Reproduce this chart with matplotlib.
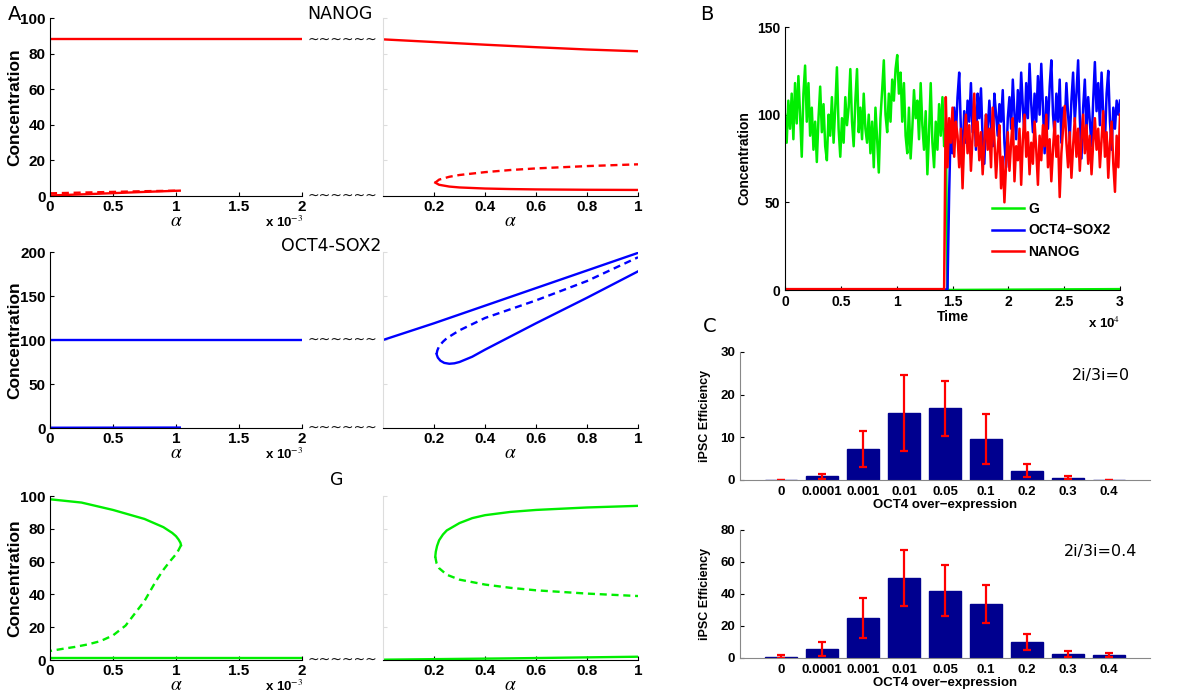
import numpy as np
import matplotlib
matplotlib.use('Agg')
import matplotlib.pyplot as plt
from matplotlib.transforms import offset_copy

plt.rcParams['font.family'] = ['Liberation Sans', 'DejaVu Sans']
plt.rcParams['mathtext.fontset'] = 'stix'

RED, BLUE, GREEN = '#ff0000', '#0000ff', '#00ee00'

# ---------------- panel A: bifurcation branches (alpha, concentration) ----------------
# left halves use alpha in units of 1e-3
nanog_left = {
    'hi':   ([0, 2.0], [88, 88]),
    'lo':   ([0, 0.25, 0.5, 0.75, 1.03], [0.3, 0.9, 1.6, 2.3, 3.0]),
    'dash': ([0, 0.25, 0.5, 0.75, 1.03], [1.5, 1.9, 2.3, 2.7, 3.0]),
}
nanog_right = {
    'hi':   ([0, 0.2, 0.4, 0.6, 0.8, 1.0], [88, 86.5, 85, 83.6, 82.3, 81.3]),
    'lo':   ([0.205, 0.22, 0.26, 0.3, 0.4, 0.5, 0.6, 0.8, 1.0],
             [7.5, 6.3, 5.3, 4.8, 4.2, 3.9, 3.7, 3.5, 3.4]),
    'dash': ([0.205, 0.22, 0.26, 0.3, 0.4, 0.5, 0.6, 0.8, 1.0],
             [7.5, 9.2, 10.8, 11.8, 13.4, 14.6, 15.5, 16.8, 17.8]),
}
oct_left = {
    'hi': ([0, 2.0], [100, 100]),
    'lo': ([0, 1.03], [0.3, 0.5]),
}
oct_right = {
    'hi':   ([0, 0.2, 0.4, 0.6, 0.8, 1.0], [100, 119, 139, 159, 179, 199]),
    'lo':   ([0.21, 0.215, 0.225, 0.24, 0.26, 0.28, 0.3, 0.35, 0.4, 0.6, 0.8, 1.0],
             [84, 80, 76.5, 74, 73, 73.5, 75, 81, 89, 119, 148, 178]),
    'dash': ([0.21, 0.213, 0.22, 0.235, 0.25, 0.3, 0.4, 0.5, 0.6, 0.8, 1.0],
             [84, 88, 93, 98, 102, 111, 125, 135, 145, 167, 194]),
}
g_left = {
    'hi':   ([0, 0.25, 0.5, 0.75, 0.9, 0.97, 1.0, 1.02, 1.035, 1.04],
             [98, 96, 91.5, 86, 81, 77.5, 75.5, 73.5, 71.5, 70]),
    'dash': ([1.04, 1.02, 1.0, 0.95, 0.9, 0.84, 0.75, 0.6, 0.5, 0.4, 0.3, 0.2, 0.1, 0],
             [70, 67, 64.5, 60, 55, 48, 36, 21, 15, 11.5, 9.5, 8, 6.8, 5.5]),
    'lo':   ([0, 2.0], [1.5, 1.5]),
}
g_right = {
    'hi':   ([0.205, 0.207, 0.212, 0.22, 0.235, 0.25, 0.3, 0.35, 0.4, 0.5, 0.6, 0.8, 1.0],
             [63, 66, 69.5, 73, 76.5, 79, 83.5, 86.5, 88.3, 90.3, 91.5, 93, 94]),
    'dash': ([0.205, 0.21, 0.22, 0.25, 0.3, 0.4, 0.5, 0.6, 0.8, 1.0],
             [63, 59, 56, 52, 49, 46, 44, 42.5, 40.5, 39]),
    'lo':   ([0, 0.5, 1.0], [0.2, 1.0, 2.0]),
}

# ---------------- panel B: stochastic time course ----------------
dt = 150
g_vals = [100, 84, 108, 92, 112, 86, 118, 95, 122, 100, 76, 112, 128, 96, 118, 88,
          104, 80, 96, 73, 98, 116, 90, 106, 82, 74, 100, 88, 110, 84, 104, 127,
          92, 76, 98, 84, 110, 94, 104, 126, 96, 82, 108, 126, 90, 104, 86, 112,
          92, 84, 100, 78, 96, 70, 104, 86, 67, 98, 114, 131, 100, 90, 112, 96,
          120, 108, 126, 134, 112, 124, 96, 118, 88, 78, 104, 75, 92, 114, 98, 108,
          86, 118, 94, 80, 102, 66, 90, 118, 84, 70, 96, 80, 106, 88, 110, 82, 92]
oct_vals = [55, 96, 78, 104, 88, 110, 124, 92, 76, 102, 84, 108, 96, 118, 90, 104,
            80, 112, 98, 115, 86, 72, 100, 90, 108, 94, 82, 112, 100, 88, 106, 96,
            114, 84, 70, 98, 110, 92, 120, 100, 86, 114, 96, 124, 104, 88, 118, 98,
            129, 106, 90, 112, 96, 122, 100, 129, 104, 78, 110, 92, 116, 131, 100, 88,
            112, 96, 120, 84, 104, 94, 118, 100, 86, 108, 124, 96, 112, 131, 98, 75,
            104, 120, 92, 110, 96, 82, 108, 130, 102, 118, 94, 124, 100, 84, 112, 125,
            96, 80, 104, 92, 108, 100, 108]
nanog_vals = [110, 70, 98, 84, 104, 76, 96, 88, 70, 92, 58, 86, 100, 78, 94, 68,
              88, 112, 82, 96, 74, 90, 66, 84, 100, 80, 92, 70, 104, 86, 64, 80,
              94, 58, 76, 50, 72, 90, 68, 84, 98, 62, 82, 74, 92, 60, 86, 100,
              76, 90, 66, 84, 72, 96, 80, 60, 88, 74, 94, 82, 100, 70, 86, 62,
              80, 96, 76, 88, 53, 78, 92, 105, 84, 70, 90, 64, 82, 98, 76, 92,
              68, 86, 100, 78, 94, 72, 88, 66, 84, 98, 80, 92, 70, 86, 102, 76,
              90, 64, 84, 96, 72, 56, 88, 70, 100]
t_g = np.arange(len(g_vals)) * dt
t_oct = 14700 + np.arange(len(oct_vals)) * dt
t_nanog = 14400 + np.arange(len(nanog_vals)) * dt

# ---------------- panel C: iPSC efficiency ----------------
oe_labels = ['0', '0.0001', '0.001', '0.01', '0.05', '0.1', '0.2', '0.3', '0.4']
eff_0 = [0, 0.85, 7.3, 15.6, 16.8, 9.6, 2.2, 0.55, 0]
err_0 = [0, 0.5, 4.2, 8.9, 6.5, 5.9, 1.5, 0.4, 0]
eff_04 = [0.8, 5.8, 25.2, 49.9, 42.1, 33.7, 10.0, 2.5, 2.1]
err_04 = [1.0, 4.3, 12.6, 17.7, 16.0, 12.0, 5.0, 1.6, 1.2]

fig = plt.figure(figsize=(12, 7), dpi=100)

TICK = dict(labelsize=11, direction='in', length=3, pad=3)


def style_left(ax, ylim, yticks):
    for s in ['top', 'right']:
        ax.spines[s].set_visible(False)
    ax.set_ylim(*ylim)
    ax.set_yticks(yticks)
    ax.set_xlim(0, 2)
    ax.set_xticks([0, 0.5, 1, 1.5, 2])
    ax.set_xticklabels(['0', '0.5', '1', '1.5', '2'])
    ax.tick_params(**TICK)
    for lab in ax.get_xticklabels() + ax.get_yticklabels():
        lab.set_fontweight('bold')
    ax.set_ylabel('Concentration', fontsize=12.5, fontweight='bold')
    ax.yaxis.set_label_coords(-0.11, 0.5)
    ax.set_xlabel(r'$\alpha$', fontsize=14, labelpad=-1)
    tr = offset_copy(ax.transAxes, fig=ax.figure, x=0, y=-19, units='dots')
    ax.text(0.853, 0, r'x 10$^{-3}$', transform=tr, fontsize=9.5,
            fontweight='bold', ha='left', va='top')


def style_right(ax, ylim):
    for s in ['top', 'right']:
        ax.spines[s].set_visible(False)
    ax.spines['left'].set_color('#dddddd')
    ax.set_ylim(*ylim)
    ax.set_xlim(0, 1)
    ax.set_xticks([0.2, 0.4, 0.6, 0.8, 1])
    ax.set_xticklabels(['0.2', '0.4', '0.6', '0.8', '1'])
    ax.tick_params(**TICK)
    ax.tick_params(axis='y', labelleft=False, color='#dddddd')
    for lab in ax.get_xticklabels():
        lab.set_fontweight('bold')
    ax.set_xlabel(r'$\alpha$', fontsize=14, labelpad=-1)


def draw(ax, branches, color):
    for key, (a, c) in branches.items():
        if key == 'dash':
            ax.plot(a, c, color=color, lw=1.7, dashes=(3, 2))
        else:
            ax.plot(a, c, color=color, lw=1.7)


def breaks(ax, levels):
    tr = ax.get_yaxis_transform()
    for lv in levels:
        ax.text(1.02, lv, '~~~~~~', transform=tr, fontsize=10, ha='left', va='center',
                family='DejaVu Sans', color='#111111')


rows = [
    (1 - 196 / 700, 178 / 700, (0, 100), [0, 20, 40, 60, 80, 100], nanog_left, nanog_right, RED,
     [88, 0], 'NANOG', 340, 14),
    (1 - 428 / 700, 176 / 700, (0, 200), [0, 50, 100, 150, 200], oct_left, oct_right, BLUE,
     [100, 0], 'OCT4-SOX2', 331, 246),
    (1 - 660 / 700, 164 / 700, (0, 100), [0, 20, 40, 60, 80, 100], g_left, g_right, GREEN,
     [0], 'G', 337, 480),
]
for bottom, h, ylim, yticks, left_br, right_br, col, lv, title, tx, ty in rows:
    axl = fig.add_axes([50 / 1200, bottom, 252 / 1200, h])
    axr = fig.add_axes([383 / 1200, bottom, 255 / 1200, h])
    draw(axl, left_br, col)
    draw(axr, right_br, col)
    style_left(axl, ylim, yticks)
    style_right(axr, ylim)
    breaks(axl, lv)
    fig.text(tx / 1200, 1 - ty / 700, title, fontsize=12.5, family='DejaVu Sans',
             ha='center', va='center')

# ---------------- panel B ----------------
axb = fig.add_axes([785 / 1200, 1 - 290 / 700, 335 / 1200, 263 / 700])
axb.plot(np.r_[t_g, 14550, 30000], np.r_[g_vals, 0, 0.5], color=GREEN, lw=1.8, label='G')
axb.plot(np.r_[0, 14550, t_oct], np.r_[0.3, 0.3, oct_vals], color=BLUE, lw=1.8,
         label='OCT4\u2212SOX2')
axb.plot(np.r_[0, 14250, t_nanog], np.r_[0.5, 0.5, nanog_vals], color=RED, lw=1.8,
         label='NANOG')
for s in ['top', 'right']:
    axb.spines[s].set_visible(False)
axb.set_xlim(0, 30000)
axb.set_ylim(0, 150)
axb.set_yticks([0, 50, 100, 150])
axb.set_xticks([0, 5000, 10000, 15000, 20000, 25000, 30000])
axb.set_xticklabels(['0', '0.5', '1', '1.5', '2', '2.5', '3'])
axb.tick_params(labelsize=10, direction='in', length=3)
for lab in axb.get_xticklabels() + axb.get_yticklabels():
    lab.set_fontweight('bold')
axb.set_ylabel('Concentration', fontsize=10, fontweight='bold', labelpad=4)
axb.set_xlabel('Time', fontsize=10, fontweight='bold', labelpad=1)
axb.text(1.0, -0.1, r'x 10$^{4}$', transform=axb.transAxes, fontsize=9.5,
         fontweight='bold', ha='right', va='top')
leg = axb.legend(loc='lower left', bbox_to_anchor=(0.58, 0.07), frameon=False,
                 prop={'weight': 'bold', 'size': 10}, handlelength=2.3,
                 labelspacing=0.55, handletextpad=0.3)

# ---------------- panel C ----------------
xpos = np.arange(1, len(oe_labels) + 1)
for bottom, eff, err, ymax, yticks, label, ty in [
        (1 - 480 / 700, eff_0, err_0, 30, [0, 10, 20, 30], '2i/3i=0', 0.82),
        (1 - 658 / 700, eff_04, err_04, 80, [0, 20, 40, 60, 80], '2i/3i=0.4', 0.83)]:
    axc = fig.add_axes([740 / 1200, bottom, 410 / 1200, 128 / 700])
    axc.bar(xpos, eff, width=0.8, color='#00008f', edgecolor='#00008f')
    axc.errorbar(xpos, eff, yerr=err, fmt='none', ecolor=RED, elinewidth=1.6,
                 capsize=3, capthick=1.6)
    for s in ['top', 'right']:
        axc.spines[s].set_visible(False)
    axc.spines['left'].set_color('#888888')
    axc.spines['bottom'].set_color('#888888')
    axc.set_xlim(0, 10)
    axc.set_ylim(0, ymax)
    axc.set_yticks(yticks)
    axc.set_xticks(xpos)
    axc.set_xticklabels(oe_labels)
    axc.tick_params(labelsize=9.5, direction='in', length=3)
    axc.tick_params(axis='x', length=0, pad=4)
    for lab in axc.get_xticklabels() + axc.get_yticklabels():
        lab.set_fontweight('bold')
    axc.set_ylabel('iPSC Efficiency', fontsize=9, fontweight='bold', labelpad=7)
    axc.set_xlabel('OCT4 over\u2212expression', fontsize=9.5, fontweight='bold',
                   labelpad=1)
    axc.text(0.88, ty, label, transform=axc.transAxes, fontsize=11.5,
             family='DejaVu Sans', ha='center', va='center')

# panel letters
fig.text(8 / 1200, 1 - 15 / 700, 'A', fontsize=14, family='DejaVu Sans', va='center')
fig.text(700 / 1200, 1 - 15 / 700, 'B', fontsize=14, family='DejaVu Sans', va='center')
fig.text(703 / 1200, 1 - 327 / 700, 'C', fontsize=14, family='DejaVu Sans', va='center')

fig.savefig('out.png', dpi=100)
